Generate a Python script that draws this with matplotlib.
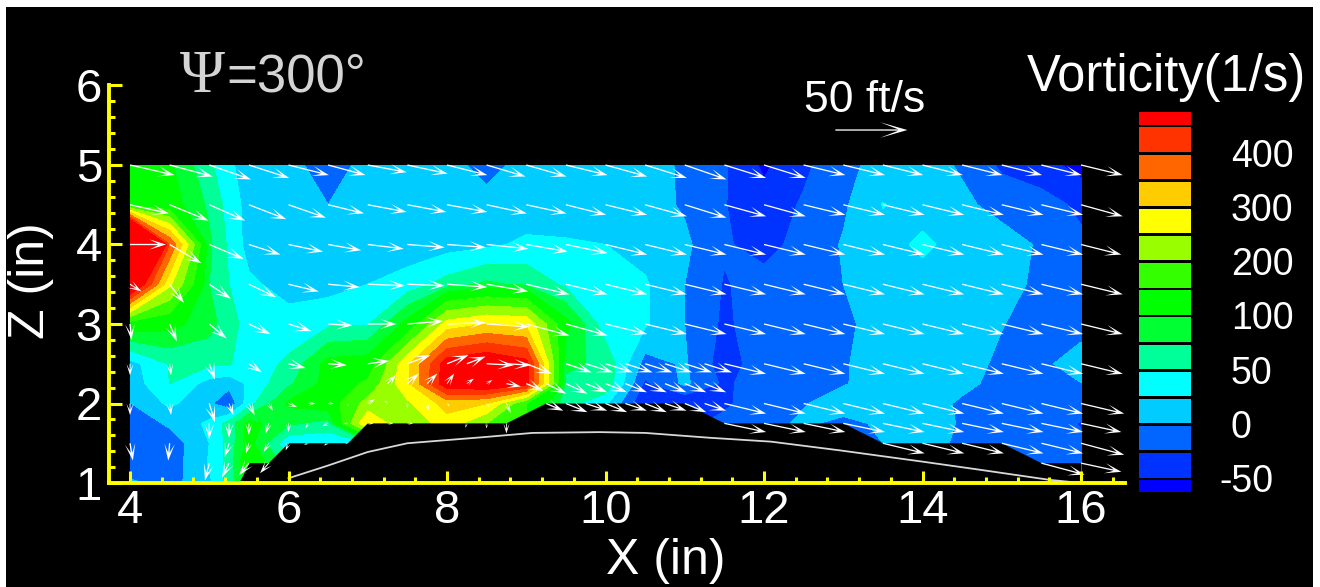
import matplotlib
matplotlib.use("Agg")
import matplotlib.pyplot as plt
import numpy as np
from matplotlib.colors import ListedColormap, BoundaryNorm
from matplotlib.patches import Rectangle, Polygon
from matplotlib.ticker import MultipleLocator

W_PX, H_PX = 1320, 587
plt.rcParams['font.family'] = ['Liberation Sans', 'DejaVu Sans']

# ---- vorticity field (1/s) ----
grid_x = [4, 4.5, 5, 5.25, 5.5, 6, 6.5, 7, 7.5, 8, 8.5, 9, 9.5, 10, 10.5, 11, 11.5, 12, 12.5, 13, 13.5, 14, 14.5, 15, 15.5, 16]
grid_y = [5, 4.5, 4, 3.5, 3, 2.5, 2.25, 2, 1.75, 1.5, 1.25, 1]
vort_500 = [120, 105, 55, 30, 12, 10, -15, 10, 10, 10, -10, 10, 10, 10, 8, -3, -22, -55, -30, -8, 10, 10, -3, -30, -40, -60]
vort_450 = [130, 115, 70, 40, 15, 12, 0, 10, 10, 10, 10, 10, 10, 10, 10, -3, -24, -40, -22, -4, 26, 15, 5, -8, -15, -30]
vort_400 = [1000, 400, 80, 45, 15, 12, 12, 12, 12, 15, 20, 30, 28, 25, 15, 5, -22, -35, -15, 2, 15, 30, 15, 10, -3, -20]
vort_350 = [560, 260, 75, 50, 30, 15, 15, 25, 35, 60, 80, 70, 45, 30, 28, 0, -27, -15, -12, 0, 12, 15, 15, 8, -5, -12]
vort_300 = [120, 110, 85, 60, 40, 35, 45, 48, 110, 270, 300, 290, 110, 35, 28, 0, -30, -10, -10, -5, 10, 15, 15, 1, -10, -15]
vort_250 = [15, 52, 55, 52, 35, 55, 110, 115, 290, 480, 510, 470, 80, 70, -10, 3, -38, -10, -10, -2, 10, 10, 10, -5, -8, 18]
vort_225 = [10, 50, 15, 8, 30, 70, 110, 160, 290, 490, 510, 470, 70, 70, -30, 5, -30, -10, -10, -2, 12, 15, 8, -10, -10, -1]
vort_200 = [-1, 30, 5, -20, 40, 105, 120, 220, 240, 320, 300, 150, 60, 30, -50, -50, -28, -15, -2, 15, 15, 15, -5, -10, -10, -5]
vort_175 = [-20, 5, 30, 60, 110, 80, 65, 300, 200, 280, 200, 150, 60, 0, -30, -30, -20, -10, 5, -8, 5, 15, -3, -10, -10, -27]
vort_150 = [-15, -15, 25, 60, 110, 30, 30, 50, 100, 100, 100, 100, 50, 0, -30, -30, -20, -10, 0, -5, 0, 10, -5, -10, -15, -20]
vort_125 = [-20, -15, 27, 60, 130, 60, 60, 60, 60, 60, 60, 60, 30, 0, -20, -20, -20, -10, -5, -5, -5, -5, -10, -10, -15, -15]
vort_100 = [5, -10, 20, 60, 110, 60, 60, 60, 60, 60, 60, 60, 30, 0, -20, -20, -20, -10, -5, -5, -5, -5, -10, -10, -15, -15]

levels = [-50, -25, 0, 25, 50, 75, 100, 150, 200, 250, 300, 350, 400, 450]
band_colors = ['#0000ff', '#0033ff', '#0066ff', '#00ccff', '#00ffff', '#00ff99', '#00ff33', '#00ff00',
               '#33ff00', '#99ff00', '#ffff00', '#ffcc00', '#ff6600', '#ff3300', '#ff0000']
cb_labels = {-50: '-50', 0: '0', 50: '50', 100: '100', 200: '200', 300: '300', 400: '400'}

# ---- body outline and centre curve ----
body_x = [5.38, 5.51, 5.75, 6, 6.75, 7, 8.75, 9.25, 11, 11.5, 13, 13.5, 15, 15.5, 16, 16]
body_y = [1, 1.25, 1.25, 1.5, 1.5, 1.75, 1.75, 2, 2, 1.75, 1.75, 1.5, 1.5, 1.25, 1.25, 1]
curve_x = [6, 6.5, 7, 7.5, 8, 8.5, 9.08, 9.93, 10.5, 11.3, 12.09, 12.96, 13.99, 14.7, 15.6, 16]
curve_y = [1.06, 1.22, 1.39, 1.50, 1.54, 1.58, 1.63, 1.64, 1.63, 1.57, 1.52, 1.41, 1.27, 1.17, 1.04, 1.0]

# ---- velocity arrows (ft/s) on half-inch columns ----
col_x = [4, 4.5, 5, 5.5, 6, 6.5, 7, 7.5, 8, 8.5, 9, 9.5, 10, 10.5, 11, 11.5, 12, 12.5, 13, 13.5, 14, 14.5, 15, 15.5, 16]
u_500 = [31, 30, 29, 28, 28, 26, 27, 28, 28, 27, 28, 29, 29, 29, 29, 29, 29, 29, 29, 28, 28, 28, 28, 28, 29]
w_500 = [-7, -8, -10, -9, -7, -7, -5, -6, -7, -8, -8, -7, -8, -9, -10, -9, -9, -7, -7, -7, -7, -7, -7, -7, -7]
u_450 = [27, 27, 25, 26, 26, 25, 27, 27, 28, 28, 28, 28, 29, 29, 29, 29, 29, 29, 29, 29, 29, 29, 29, 29, 29]
w_450 = [-6, -11, -11, -10, -9, -6, -5, -5, -5, -6, -6, -7, -7, -8, -9, -8, -8, -7, -7, -7, -7, -7, -7, -7, -8]
u_400 = [25, 22, 24, 22, 24, 23, 25, 26, 27, 29, 29, 29, 29, 29, 29, 29, 29, 29, 29, 29, 29, 29, 29, 29, 28]
w_400 = [0, -13, -10, -7, -5, -4, -3, -2, -2, -3, -5, -6, -7, -7, -7, -7, -7, -7, -7, -7, -7, -7, -7, -7, -7]
u_350 = [8, 10, 15, 19, 21, 22, 26, 26, 28, 29, 30, 29, 29, 29, 29, 29, 29, 29, 29, 29, 29, 29, 29, 29, 29]
w_350 = [-5, -13, -10, -9, -5, -2, -1, -1, -2, -5, -7, -7, -7, -7, -7, -7, -7, -7, -7, -7, -7, -7, -7, -7, -7]
u_300 = [1, 5, 12, 15, 16, 17, 20, 25, 27, 30, 30, 29, 29, 29, 29, 29, 29, 29, 29, 29, 29, 29, 29, 29, 29]
w_300 = [-11, -12, -10, -7, -5, -1, 0, 2, 1, -2, -8, -8, -7, -7, -7, -7, -7, -7, -7, -7, -7, -7, -7, -7, -7]
u_250 = [0, 1, 4, 9, 12, 13, 15, 16, 15, 19, 18, 18, 19, 19, 19, 29, 29, 29, 29, 29, 29, 29, 29, 29, 29]
w_250 = [-8, -8, -11, -6, -3, -1, 2, 6, 6, -1, -7, -6, -6, -6, -6, -7, -7, -7, -7, -7, -7, -7, -7, -7, -7]

# flat list of the arrows off the half-inch rows: lower left, hot spot and above the crest
low_x = [4, 4.5, 5, 5.25, 5.5, 5.75, 6, 6.25, 6.5, 6.75,
         5, 5.25, 5.5, 5.75, 6, 6.25, 6.5, 6.75,
         4, 4.5, 5.25, 5.5, 5.75, 6, 6.25, 6.5, 6.75,
         5, 5.25, 5.5, 5.75,
         7.25, 7.5, 7.75, 8, 8.25, 8.5, 8.75, 9, 9.25, 9.5, 9.75, 10, 10.25, 10.5, 10.75, 11, 11.25,
         7, 7.25, 7.5, 7.75, 8, 8.25, 8.5, 8.75, 9.25, 9.5, 9.75, 10, 10.25, 10.5, 10.75, 11, 11.25,
         7, 7.25, 7.5, 8.25, 8.5, 8.75,
         9.75, 10.25, 10.75, 11.25, 8.25, 8.75]
low_y = [2, 2, 2, 2, 2, 2, 2, 2, 2, 2,
         1.75, 1.75, 1.75, 1.75, 1.75, 1.75, 1.75, 1.75,
         1.5, 1.5, 1.5, 1.5, 1.5, 1.5, 1.5, 1.5, 1.5,
         1.25, 1.25, 1.25, 1.25,
         2.25, 2.25, 2.25, 2.25, 2.25, 2.25, 2.25, 2.25, 2.25, 2.25, 2.25, 2.25, 2.25, 2.25, 2.25, 2.25, 2.25,
         2, 2, 2, 2, 2, 2, 2, 2, 2, 2, 2, 2, 2, 2, 2, 2, 2,
         1.75, 1.75, 1.75, 1.75, 1.75, 1.75,
         2.5, 2.5, 2.5, 2.5, 2.5, 2.5]
low_u = [0, 1, 4, 3, 4, 3, 6, 5, 4, 0,
         0, 0, 0, -2, 0, -2, -4, -3,
         2, -1, -3, -2, -3.5, -2, -3, -3, -2,
         -3, -5, -7, -6,
         6, 8, 7, 5, 5, 4, 10, 12, 14, 15, 15, 15, 15, 15, 15, 15, 15,
         5, -2, 0, 1, 2, 1, 2, 3, 12, 15, 15, 15, 15, 15, 15, 15, 15,
         4, 4, 4, -1, 0, 0,
         19, 19, 19, 19, 13, 17]
low_w = [-8, -8, -13, -8, -8, -5, -2.5, 0, 0, -2,
         -11, -10, -8, -7, -6, -3.5, -2, 0,
         -12, -12, -9.5, -7, -6, -5, -1, -1.5, 0,
         -12, -10, -8.5, -7,
         6, 7, 7, 7, 3.5, 2.5, -2, -5, -7, -7, -6, -6, -6, -6, -6, -6, -6,
         3, 2, -3.5, -5, -2, -1, -2.5, -6.5, -5, -6, -5, -6, -5, -6, -5, -6, -5,
         0, 0, 0, -3, -3.5, -7,
         -6, -6, -6, -6, 5, -1]
# rows that start further along the body
row2_x = [11.5, 12, 12.5, 13, 13.5, 14, 14.5, 15, 15.5, 16]
row2_u = [29, 29, 29, 29, 29, 29, 29, 29, 29, 30]
row2_w = [-7, -7, -7, -7, -7, -7, -7, -7, -7, -7]
row175_x = [11.5, 12, 12.5, 13, 13.5, 14, 14.5, 15, 15.5, 16]
row175_u = [29, 29, 29, 29, 29, 29, 29, 29, 29, 28]
row175_w = [-6, -6, -6, -6, -6, -6, -6, -6, -6, -6]
row150_x = [13.5, 14, 14.5, 15, 15.5, 16]
row150_u = [29, 29, 29, 29, 29, 30]
row150_w = [-7, -7, -7, -7, -7, -8]
row125_x = [15.5, 16]
row125_u = [30, 28]
row125_w = [-8, -6]
ref_speed = 50


def fx(p):
    return p / W_PX


def fy(p):
    return 1 - p / H_PX


fig = plt.figure(figsize=(W_PX / 100, H_PX / 100), dpi=100, facecolor='white')
fig.add_artist(Rectangle((fx(6), 0), fx(1313 - 6), fy(7), transform=fig.transFigure,
                         facecolor='black', edgecolor='none', zorder=-10))

ax = fig.add_axes([fx(109), fy(483), fx(1125 - 109), (483 - 85.5) / H_PX])
ax.patch.set_alpha(0)
ax.set_xlim(3.735, 16.555)
ax.set_ylim(1, 6)

vort = np.array([vort_500, vort_450, vort_400, vort_350, vort_300, vort_250,
                 vort_225, vort_200, vort_175, vort_150, vort_125, vort_100], dtype=float)
cmap = ListedColormap(band_colors)
bounds = [-1000] + levels + [2000]
norm = BoundaryNorm(bounds, cmap.N)
ax.contourf(grid_x, grid_y, vort, levels=bounds, cmap=cmap, norm=norm, zorder=1)

ax.add_patch(Polygon(np.column_stack([body_x, body_y]), closed=True, facecolor='black',
                     edgecolor='none', zorder=1.5))
ax.plot(curve_x, curve_y, color='#d8d8d8', lw=1.3, zorder=1.6)

qk = dict(angles='xy', scale_units='xy', scale=55, pivot='tail', color='white', width=1.3,
          units='dots', headwidth=8, headlength=13, headaxislength=6, minlength=0.3, zorder=1.8)
for yv, uu, ww in [(5, u_500, w_500), (4.5, u_450, w_450), (4, u_400, w_400),
                   (3.5, u_350, w_350), (3, u_300, w_300), (2.5, u_250, w_250)]:
    ax.quiver(col_x, [yv] * len(col_x), uu, ww, **qk)
ax.quiver(low_x, low_y, low_u, low_w, **qk)
ax.quiver(row2_x, [2] * len(row2_x), row2_u, row2_w, **qk)
ax.quiver(row175_x, [1.75] * len(row175_x), row175_u, row175_w, **qk)
ax.quiver(row150_x, [1.5] * len(row150_x), row150_u, row150_w, **qk)
ax.quiver(row125_x, [1.25] * len(row125_x), row125_u, row125_w, **qk)
ax.quiver([12.9], [5.44], [ref_speed], [0], **{**qk, 'headwidth': 12, 'headlength': 21, 'headaxislength': 7})

for s in ('top', 'right'):
    ax.spines[s].set_visible(False)
for s in ('left', 'bottom'):
    ax.spines[s].set_color('#ffff00')
    ax.spines[s].set_linewidth(2.8)
ax.set_xticks([4, 6, 8, 10, 12, 14, 16])
ax.set_yticks([1, 2, 3, 4, 5, 6])
ax.xaxis.set_minor_locator(MultipleLocator(0.4))
ax.yaxis.set_minor_locator(MultipleLocator(0.2))
ax.tick_params(which='major', direction='in', length=9, width=2.2, color='#ffff00')
ax.tick_params(which='minor', direction='in', length=4.3, width=2.2, color='#ffff00')
ax.tick_params(axis='both', which='major', labelcolor='white', labelsize=34)
ax.tick_params(axis='x', which='major', pad=4.5)
ax.tick_params(axis='y', which='major', pad=5)
ax.set_axisbelow(False)

fig.text(fx(666), fy(561), 'X (in)', color='white', fontsize=36, ha='center', va='center')
fig.text(fx(31), fy(281), 'Z (in)', color='white', fontsize=36, rotation=90, ha='center', va='center')
fig.text(fx(202), fy(77), '\u03a8', color='#d4d4d4', fontsize=44, ha='center', va='center', family='Liberation Serif')
fig.text(fx(226), fy(77), '=300\u00b0', color='#d4d4d4', fontsize=38, ha='left', va='center')
fig.text(fx(865), fy(100), '50 ft/s', color='white', fontsize=32, ha='center', va='center')
fig.text(fx(1166), fy(77), 'Vorticity(1/s)', color='white', fontsize=36.5, ha='center', va='center')

# colour key: one bar per band, separated by thin black gaps
cb = fig.add_axes([fx(1139), fy(492), fx(1191 - 1139), (492 - 112) / H_PX])
cb.set_xlim(0, 1)
cb.set_ylim(0.52, 14.52)
cb.axis('off')
cb.barh(np.arange(len(band_colors)) + 0.5, [1] * len(band_colors), height=0.9, color=band_colors)
for i, lev in enumerate(levels):
    if lev in cb_labels:
        lab = cb_labels[lev]
        x_px = 1219 if lab == '-50' else 1231
        cb.text((x_px - 1139) / 52, i + 0.88, lab, color='white', fontsize=27, ha='left', va='center',
                transform=cb.get_yaxis_transform(), clip_on=False)

fig.savefig('out.png', dpi=100, facecolor=fig.get_facecolor())
